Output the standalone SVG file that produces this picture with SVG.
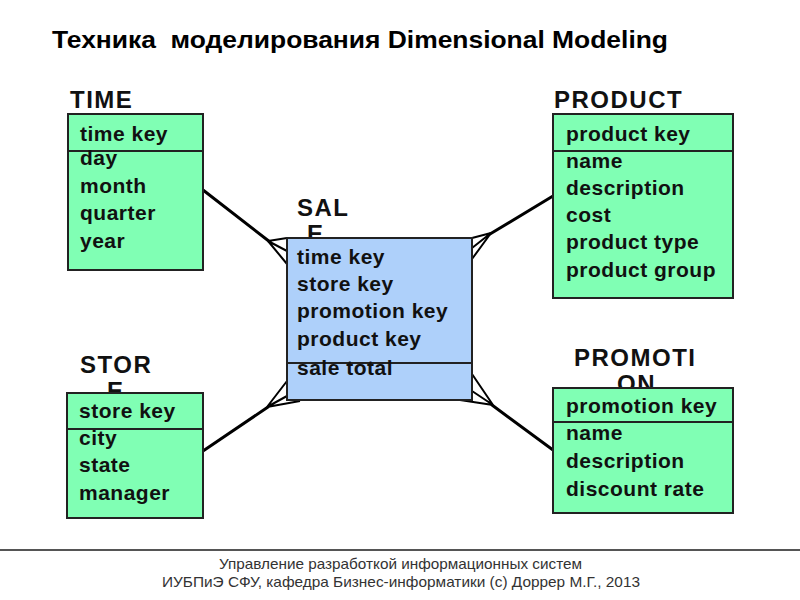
<svg xmlns="http://www.w3.org/2000/svg" width="800" height="600" viewBox="0 0 800 600">
<style>
.title{font-family:"Liberation Sans",Arial,sans-serif;font-weight:bold;font-size:24px;fill:#000}
.lbl{font-family:"Liberation Sans",Arial,sans-serif;font-weight:bold;font-size:24px;letter-spacing:1.5px;fill:#111}
.row{font-family:"Liberation Sans",Arial,sans-serif;font-weight:bold;font-size:21px;letter-spacing:0.5px;fill:#111}
.dim{fill:#80FFB4;stroke:#222;stroke-width:2}
.fact{fill:#AED0FA;stroke:#222;stroke-width:2}
.div{stroke:#222;stroke-width:2}
.conn{stroke:#000;stroke-width:3;fill:none;stroke-linecap:round}
.prong{stroke:#000;stroke-width:2;fill:none}
.foot{font-family:"Liberation Sans",Arial,sans-serif;font-size:15px;fill:#333}
</style>
<rect width="800" height="600" fill="#fff"/>
<text class="title" x="52" y="48" xml:space="preserve" textLength="616" lengthAdjust="spacingAndGlyphs">Техника  моделирования Dimensional Modeling</text>

<g id="connectors">
  <line class="conn" x1="203" y1="190" x2="270" y2="242"/>
  <path class="prong" d="M268,241 L287,238 M268,241 L287,251 M268,241 L287,264"/>
  <line class="conn" x1="553" y1="196" x2="490" y2="234"/>
  <path class="prong" d="M491,233 L472,238 M491,233 L472,248 M491,233 L472,259"/>
  <line class="conn" x1="203" y1="451" x2="268" y2="407"/>
  <path class="prong" d="M267,407 L287,381 M267,407 L287,396 M267,407 L300,401"/>
  <line class="conn" x1="553" y1="450" x2="492" y2="405"/>
  <path class="prong" d="M493,405 L472,374 M493,405 L472,391 M493,405 L460,400"/>
</g>

<g id="time">
  <text class="lbl" x="70" y="108">TIME</text>
  <rect class="dim" x="68" y="114" width="135" height="156"/>
  <line class="div" x1="68" y1="151" x2="203" y2="151"/>
  <text class="row" x="80" y="141">time key</text>
  <text class="row" x="80" y="165">day</text>
  <text class="row" x="80" y="193">month</text>
  <text class="row" x="80" y="220">quarter</text>
  <text class="row" x="80" y="248">year</text>
</g>

<g id="product">
  <text class="lbl" x="554" y="108">PRODUCT</text>
  <rect class="dim" x="553" y="114" width="180" height="184"/>
  <line class="div" x1="553" y1="151" x2="733" y2="151"/>
  <text class="row" x="566" y="141">product key</text>
  <text class="row" x="566" y="168">name</text>
  <text class="row" x="566" y="195">description</text>
  <text class="row" x="566" y="222">cost</text>
  <text class="row" x="566" y="249">product type</text>
  <text class="row" x="566" y="277">product group</text>
</g>

<g id="sale">
  <text class="lbl" x="297" y="216">SAL</text>
  <text class="lbl" x="307" y="242">E</text>
  <rect class="fact" x="287" y="238" width="185" height="162"/>
  <line class="div" x1="287" y1="363" x2="472" y2="363"/>
  <text class="row" x="297" y="264">time key</text>
  <text class="row" x="297" y="291">store key</text>
  <text class="row" x="297" y="318">promotion key</text>
  <text class="row" x="297" y="346">product key</text>
  <text class="row" x="297" y="375">sale total</text>
</g>

<g id="store">
  <text class="lbl" x="80" y="373">STOR</text>
  <text class="lbl" x="107" y="399">E</text>
  <rect class="dim" x="67" y="393" width="136" height="125"/>
  <line class="div" x1="67" y1="429" x2="203" y2="429"/>
  <text class="row" x="79" y="418">store key</text>
  <text class="row" x="79" y="445">city</text>
  <text class="row" x="79" y="472">state</text>
  <text class="row" x="79" y="500">manager</text>
</g>

<g id="promotion">
  <text class="lbl" x="574" y="366">PROMOTI</text>
  <text class="lbl" x="617" y="392">ON</text>
  <rect class="dim" x="553" y="388" width="180" height="125"/>
  <line class="div" x1="553" y1="422" x2="733" y2="422"/>
  <text class="row" x="566" y="413">promotion key</text>
  <text class="row" x="566" y="440">name</text>
  <text class="row" x="566" y="468">description</text>
  <text class="row" x="566" y="496">discount rate</text>
</g>

<line x1="0" y1="550" x2="800" y2="550" stroke="#555" stroke-width="2"/>
<text class="foot" x="219" y="569" textLength="363" lengthAdjust="spacingAndGlyphs">Управление разработкой информационных систем</text>
<text class="foot" x="162" y="587" textLength="478" lengthAdjust="spacingAndGlyphs">ИУБПиЭ СФУ, кафедра Бизнес-информатики (с) Доррер М.Г., 2013</text>
</svg>
